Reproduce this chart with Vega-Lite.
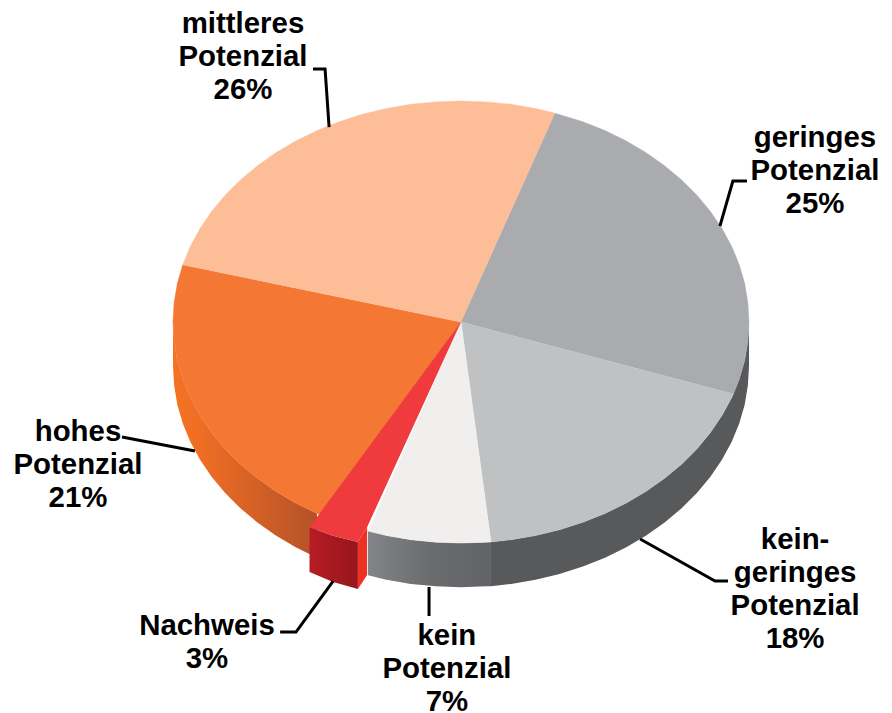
{"$schema":"https://vega.github.io/schema/vega-lite/v6.json","width":892,"height":713,"autosize":{"type":"none"},"padding":0,"background":"white","view":{"stroke":null},
"datasets":{
"wallOrange":[{"i":0,"x":-100,"y":0},{"i":1,"x":-99.6,"y":8.7},{"i":2,"x":-98.5,"y":17.4},{"i":3,"x":-96.6,"y":25.9},{"i":4,"x":-94,"y":34.2},{"i":5,"x":-90.6,"y":42.3},{"i":6,"x":-86.6,"y":50},{"i":7,"x":-81.9,"y":57.4},{"i":8,"x":-76.6,"y":64.3},{"i":9,"x":-70.7,"y":70.7},{"i":10,"x":-64.3,"y":76.6},{"i":11,"x":-57.4,"y":81.9},{"i":12,"x":-50,"y":86.6},{"i":13,"x":-50,"y":106.6},{"i":14,"x":-57.4,"y":101.9},{"i":15,"x":-64.3,"y":96.6},{"i":16,"x":-70.7,"y":90.7},{"i":17,"x":-76.6,"y":84.3},{"i":18,"x":-81.9,"y":77.4},{"i":19,"x":-86.6,"y":70},{"i":20,"x":-90.6,"y":62.3},{"i":21,"x":-94,"y":54.2},{"i":22,"x":-96.6,"y":45.9},{"i":23,"x":-98.5,"y":37.4},{"i":24,"x":-99.6,"y":28.7},{"i":25,"x":-100,"y":20}],
"wallGrey":[{"i":0,"x":10.4,"y":99.5},{"i":1,"x":8.7,"y":99.6},{"i":2,"x":0,"y":100},{"i":3,"x":-8.7,"y":99.6},{"i":4,"x":-17.4,"y":98.5},{"i":5,"x":-25.9,"y":96.6},{"i":6,"x":-32.3,"y":94.6},{"i":7,"x":-32.3,"y":114.6},{"i":8,"x":-25.9,"y":116.6},{"i":9,"x":-17.4,"y":118.5},{"i":10,"x":-8.7,"y":119.6},{"i":11,"x":0,"y":120},{"i":12,"x":8.7,"y":119.6},{"i":13,"x":10.4,"y":119.5}],
"wallDark":[{"i":0,"x":100,"y":0},{"i":1,"x":99.6,"y":8.7},{"i":2,"x":98.5,"y":17.4},{"i":3,"x":96.6,"y":25.9},{"i":4,"x":94,"y":34.2},{"i":5,"x":90.6,"y":42.3},{"i":6,"x":86.6,"y":50},{"i":7,"x":81.9,"y":57.4},{"i":8,"x":76.6,"y":64.3},{"i":9,"x":70.7,"y":70.7},{"i":10,"x":64.3,"y":76.6},{"i":11,"x":57.4,"y":81.9},{"i":12,"x":50,"y":86.6},{"i":13,"x":42.3,"y":90.6},{"i":14,"x":34.2,"y":94},{"i":15,"x":25.9,"y":96.6},{"i":16,"x":17.4,"y":98.5},{"i":17,"x":10.4,"y":99.5},{"i":18,"x":10.4,"y":119.5},{"i":19,"x":17.4,"y":118.5},{"i":20,"x":25.9,"y":116.6},{"i":21,"x":34.2,"y":114},{"i":22,"x":42.3,"y":110.6},{"i":23,"x":50,"y":106.6},{"i":24,"x":57.4,"y":101.9},{"i":25,"x":64.3,"y":96.6},{"i":26,"x":70.7,"y":90.7},{"i":27,"x":76.6,"y":84.3},{"i":28,"x":81.9,"y":77.4},{"i":29,"x":86.6,"y":70},{"i":30,"x":90.6,"y":62.3},{"i":31,"x":94,"y":54.2},{"i":32,"x":96.6,"y":45.9},{"i":33,"x":98.5,"y":37.4},{"i":34,"x":99.6,"y":28.7},{"i":35,"x":100,"y":20}],
"tops":[
{"s":"geringes","i":0,"x":0,"y":0},{"s":"geringes","i":1,"x":32.6,"y":-94.5},{"s":"geringes","i":2,"x":42.3,"y":-90.6},{"s":"geringes","i":3,"x":50,"y":-86.6},{"s":"geringes","i":4,"x":57.4,"y":-81.9},{"s":"geringes","i":5,"x":64.3,"y":-76.6},{"s":"geringes","i":6,"x":70.7,"y":-70.7},{"s":"geringes","i":7,"x":76.6,"y":-64.3},{"s":"geringes","i":8,"x":81.9,"y":-57.4},{"s":"geringes","i":9,"x":86.6,"y":-50},{"s":"geringes","i":10,"x":90.6,"y":-42.3},{"s":"geringes","i":11,"x":94,"y":-34.2},{"s":"geringes","i":12,"x":96.6,"y":-25.9},{"s":"geringes","i":13,"x":98.5,"y":-17.4},{"s":"geringes","i":14,"x":99.6,"y":-8.7},{"s":"geringes","i":15,"x":100,"y":0},{"s":"geringes","i":16,"x":99.6,"y":8.7},{"s":"geringes","i":17,"x":98.5,"y":17.4},{"s":"geringes","i":18,"x":96.6,"y":25.9},{"s":"geringes","i":19,"x":94.6,"y":32.6},
{"s":"keinGeringes","i":0,"x":0,"y":0},{"s":"keinGeringes","i":1,"x":94.6,"y":32.6},{"s":"keinGeringes","i":2,"x":94,"y":34.2},{"s":"keinGeringes","i":3,"x":90.6,"y":42.3},{"s":"keinGeringes","i":4,"x":86.6,"y":50},{"s":"keinGeringes","i":5,"x":81.9,"y":57.4},{"s":"keinGeringes","i":6,"x":76.6,"y":64.3},{"s":"keinGeringes","i":7,"x":70.7,"y":70.7},{"s":"keinGeringes","i":8,"x":64.3,"y":76.6},{"s":"keinGeringes","i":9,"x":57.4,"y":81.9},{"s":"keinGeringes","i":10,"x":50,"y":86.6},{"s":"keinGeringes","i":11,"x":42.3,"y":90.6},{"s":"keinGeringes","i":12,"x":34.2,"y":94},{"s":"keinGeringes","i":13,"x":25.9,"y":96.6},{"s":"keinGeringes","i":14,"x":17.4,"y":98.5},{"s":"keinGeringes","i":15,"x":10.4,"y":99.5},
{"s":"kein","i":0,"x":0,"y":0},{"s":"kein","i":1,"x":10.4,"y":99.5},{"s":"kein","i":2,"x":8.7,"y":99.6},{"s":"kein","i":3,"x":0,"y":100},{"s":"kein","i":4,"x":-8.7,"y":99.6},{"s":"kein","i":5,"x":-17.4,"y":98.5},{"s":"kein","i":6,"x":-25.9,"y":96.6},{"s":"kein","i":7,"x":-32.3,"y":94.6},
{"s":"hohes","i":0,"x":0,"y":0},{"s":"hohes","i":0.5,"x":-42.3,"y":90.6},{"s":"hohes","i":1,"x":-50,"y":86.6},{"s":"hohes","i":2,"x":-57.4,"y":81.9},{"s":"hohes","i":3,"x":-64.3,"y":76.6},{"s":"hohes","i":4,"x":-70.7,"y":70.7},{"s":"hohes","i":5,"x":-76.6,"y":64.3},{"s":"hohes","i":6,"x":-81.9,"y":57.4},{"s":"hohes","i":7,"x":-86.6,"y":50},{"s":"hohes","i":8,"x":-90.6,"y":42.3},{"s":"hohes","i":9,"x":-94,"y":34.2},{"s":"hohes","i":10,"x":-96.6,"y":25.9},{"s":"hohes","i":11,"x":-98.5,"y":17.4},{"s":"hohes","i":12,"x":-99.6,"y":8.7},{"s":"hohes","i":13,"x":-100,"y":0},{"s":"hohes","i":14,"x":-99.6,"y":-8.7},{"s":"hohes","i":15,"x":-98.5,"y":-17.4},{"s":"hohes","i":16,"x":-96.6,"y":-25.9},
{"s":"mittleres","i":0,"x":0,"y":0},{"s":"mittleres","i":1,"x":-96.6,"y":-25.9},{"s":"mittleres","i":2,"x":-94,"y":-34.2},{"s":"mittleres","i":3,"x":-90.6,"y":-42.3},{"s":"mittleres","i":4,"x":-86.6,"y":-50},{"s":"mittleres","i":5,"x":-81.9,"y":-57.4},{"s":"mittleres","i":6,"x":-76.6,"y":-64.3},{"s":"mittleres","i":7,"x":-70.7,"y":-70.7},{"s":"mittleres","i":8,"x":-64.3,"y":-76.6},{"s":"mittleres","i":9,"x":-57.4,"y":-81.9},{"s":"mittleres","i":10,"x":-50,"y":-86.6},{"s":"mittleres","i":11,"x":-42.3,"y":-90.6},{"s":"mittleres","i":12,"x":-34.2,"y":-94},{"s":"mittleres","i":13,"x":-25.9,"y":-96.6},{"s":"mittleres","i":14,"x":-17.4,"y":-98.5},{"s":"mittleres","i":15,"x":-8.7,"y":-99.6},{"s":"mittleres","i":16,"x":0,"y":-100},{"s":"mittleres","i":17,"x":8.7,"y":-99.6},{"s":"mittleres","i":18,"x":17.4,"y":-98.5},{"s":"mittleres","i":19,"x":25.9,"y":-96.6},{"s":"mittleres","i":20,"x":32.6,"y":-94.5}
],
"redFront":[{"i":0,"x":-52.6,"y":92.8},{"i":1,"x":-44.4,"y":96.7},{"i":2,"x":-35.8,"y":99.5},{"i":3,"x":-35.8,"y":120.8},{"i":4,"x":-44.4,"y":117.6},{"i":5,"x":-52.6,"y":113.1}],
"redSide":[{"i":0,"x":-35.8,"y":99.5},{"i":1,"x":-32.6,"y":92.8},{"i":2,"x":-32.6,"y":114.5},{"i":3,"x":-35.8,"y":120.8}],
"redTop":[{"i":0,"x":0,"y":0},{"i":1,"x":-52.6,"y":92.8},{"i":2,"x":-44.4,"y":96.7},{"i":3,"x":-35.8,"y":99.5},{"i":4,"x":-32.6,"y":92.8}],
"leaders":[
{"l":"mittleres","i":0,"x":-51.4,"y":-114.5},{"l":"mittleres","i":1,"x":-47.2,"y":-114.5},{"l":"mittleres","i":2,"x":-45.8,"y":-88.2},
{"l":"geringes","i":0,"x":99.3,"y":-63.8},{"l":"geringes","i":1,"x":94.4,"y":-63.8},{"l":"geringes","i":2,"x":89.9,"y":-43.4},
{"l":"keinGeringes","i":0,"x":62.2,"y":98.2},{"l":"keinGeringes","i":1,"x":88.2,"y":117.2},{"l":"keinGeringes","i":2,"x":92.7,"y":117.2},
{"l":"kein","i":0,"x":-11.1,"y":119.9},{"l":"kein","i":1,"x":-11.1,"y":133},
{"l":"nachweis","i":0,"x":-44.4,"y":117.2},{"l":"nachweis","i":1,"x":-57.3,"y":140.3},{"l":"nachweis","i":2,"x":-62.8,"y":140.3},
{"l":"hohes","i":0,"x":-117.7,"y":52},{"l":"hohes","i":1,"x":-92.4,"y":58.4}
],
"labels":[
{"t":"mittleres\nPotenzial\n26%","x":-75.7,"y":-134.9},
{"t":"geringes\nPotenzial\n25%","x":122.9,"y":-83.2},
{"t":"kein-\ngeringes\nPotenzial\n18%","x":116,"y":98.7},
{"t":"hohes\nPotenzial\n21%","x":-133,"y":49.8},
{"t":"Nachweis\n3%","x":-88.2,"y":137.5},
{"t":"kein\nPotenzial\n7%","x":-4.9,"y":142.2}
]},
"encoding":{
"x":{"field":"x","type":"quantitative","axis":null,"scale":{"domain":[-160.07,149.65],"nice":false,"zero":false}},
"y":{"field":"y","type":"quantitative","axis":null,"scale":{"domain":[176.9,-145.7],"nice":false,"zero":false}}
},
"layer":[
{"data":{"name":"wallOrange"},"mark":{"type":"line","strokeWidth":0,"fill":{"gradient":"linear","x1":0,"x2":1,"y1":0,"y2":0,"stops":[{"offset":0,"color":"#f47322"},{"offset":0.2,"color":"#ef6d24"},{"offset":1,"color":"#b45228"}]}},"encoding":{"order":{"field":"i","type":"quantitative"}}},
{"data":{"name":"wallGrey"},"mark":{"type":"line","strokeWidth":0,"fill":{"gradient":"linear","x1":1,"x2":0,"y1":0,"y2":0,"stops":[{"offset":0,"color":"#626366"},{"offset":0.5,"color":"#6a6c6e"},{"offset":1,"color":"#828487"}]}},"encoding":{"order":{"field":"i","type":"quantitative"}}},
{"data":{"name":"wallDark"},"mark":{"type":"line","strokeWidth":0,"fill":"#58595b"},"encoding":{"order":{"field":"i","type":"quantitative"}}},
{"data":{"name":"tops"},"mark":{"type":"line","strokeWidth":0.5},"encoding":{"order":{"field":"i","type":"quantitative"},
"fill":{"field":"s","type":"nominal","legend":null,"scale":{"domain":["geringes","keinGeringes","kein","hohes","mittleres"],"range":["#a9abae","#c0c1c3","#f0efee","#f47733","#fdbd97"]}},
"stroke":{"field":"s","type":"nominal","legend":null,"scale":{"domain":["geringes","keinGeringes","kein","hohes","mittleres"],"range":["#a9abae","#c0c1c3","#f0efee","#f47733","#fdbd97"]}}}},
{"data":{"name":"redFront"},"mark":{"type":"line","strokeWidth":0,"fill":{"gradient":"linear","x1":0,"x2":1,"y1":0,"y2":0,"stops":[{"offset":0,"color":"#b71c24"},{"offset":1,"color":"#96161c"}]}},"encoding":{"order":{"field":"i","type":"quantitative"}}},
{"data":{"name":"redSide"},"mark":{"type":"line","strokeWidth":0,"fill":"#ee3124"},"encoding":{"order":{"field":"i","type":"quantitative"}}},
{"data":{"name":"redTop"},"mark":{"type":"line","strokeWidth":0,"fill":"#ef3b3e"},"encoding":{"order":{"field":"i","type":"quantitative"}}},
{"data":{"name":"leaders"},"mark":{"type":"line","color":"#000000","strokeWidth":3},"encoding":{"detail":{"field":"l","type":"nominal"},"order":{"field":"i","type":"quantitative"}}},
{"data":{"name":"labels"},"mark":{"type":"text","font":"Liberation Sans","fontWeight":"bold","fontSize":29.4,"lineHeight":33,"lineBreak":"\n","align":"center","baseline":"middle","color":"#000000"},"encoding":{"text":{"field":"t","type":"nominal"}}}
]}
